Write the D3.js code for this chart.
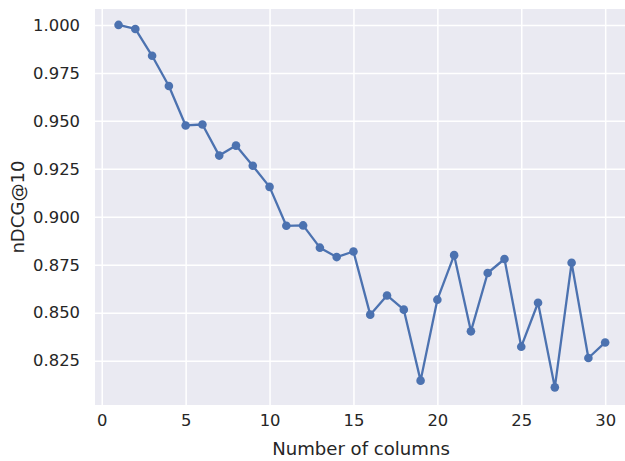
<!DOCTYPE html>
<html>
<head>
<meta charset="utf-8">
<script src="https://cdn.jsdelivr.net/npm/d3@7"></script>
<style>
  html, body { margin: 0; padding: 0; background: #fff; }
  svg { display: block; }
  text { font-family: "DejaVu Sans", sans-serif; fill: #262626; }
</style>
</head>
<body>
<svg id="chart" width="625" height="461"></svg>
<script>
const columns = d3.range(1, 31);
const ndcg = [
  1.0000, 0.9979, 0.9839, 0.9682, 0.9476, 0.9481, 0.9319, 0.9371, 0.9266, 0.9156,
  0.8953, 0.8955, 0.8839, 0.8790, 0.8819, 0.8490, 0.8590, 0.8516, 0.8146, 0.8568,
  0.8800, 0.8403, 0.8707, 0.8780, 0.8323, 0.8552, 0.8111, 0.8760, 0.8264, 0.8345
];
const xTicks = [0, 5, 10, 15, 20, 25, 30];
const yTicks = [0.825, 0.850, 0.875, 0.900, 0.925, 0.950, 0.975, 1.000];
const xLabel = "Number of columns";
const yLabel = "nDCG@10";

const svg = d3.select("#chart");
const plot = { left: 95, top: 9, right: 630, bottom: 405 };

const x = d3.scaleLinear().domain([-0.45, 31.45]).range([94.2, 629.5]);
const y = d3.scaleLinear().domain([0.8019, 1.0083]).range([plot.bottom, plot.top]);

svg.append("rect")
  .attr("x", plot.left).attr("y", plot.top)
  .attr("width", plot.right - plot.left).attr("height", plot.bottom - plot.top)
  .attr("fill", "#EAEAF2");

// grid
const xAxis = d3.axisBottom(x).tickValues(xTicks).tickSize(-(plot.bottom - plot.top)).tickPadding(9).tickFormat(d3.format("d"));
const gx = svg.append("g").attr("transform", `translate(0,${plot.bottom})`).call(xAxis);
gx.select(".domain").remove();
gx.selectAll(".tick line").attr("stroke", "#fff").attr("stroke-width", 1.5);
gx.selectAll(".tick text").attr("font-size", "16.4px").attr("fill", "#262626").attr("dy", "0.71em");

const yAxis = d3.axisLeft(y).tickValues(yTicks).tickSize(-(plot.right - plot.left)).tickPadding(15).tickFormat(d3.format(".3f"));
const gy = svg.append("g").attr("transform", `translate(${plot.left},0)`).call(yAxis);
gy.select(".domain").remove();
gy.selectAll(".tick line").attr("stroke", "#fff").attr("stroke-width", 1.5);
gy.selectAll(".tick text").attr("font-size", "16.4px").attr("fill", "#262626");

const data = columns.map((c, i) => ({ c, v: ndcg[i] }));

svg.append("path")
  .datum(data)
  .attr("fill", "none")
  .attr("stroke", "#4C72B0")
  .attr("stroke-width", 2.3)
  .attr("stroke-linejoin", "round")
  .attr("d", d3.line().x(d => x(d.c)).y(d => y(d.v)));

svg.append("g").selectAll("circle")
  .data(data)
  .join("circle")
  .attr("cx", d => x(d.c))
  .attr("cy", d => y(d.v))
  .attr("r", 4.3)
  .attr("fill", "#4C72B0");

svg.append("text")
  .attr("x", 361)
  .attr("y", 455)
  .attr("text-anchor", "middle")
  .attr("font-size", "18.1px")
  .text(xLabel);

svg.append("text")
  .attr("transform", `translate(24,${(plot.top + plot.bottom) / 2}) rotate(-90)`)
  .attr("text-anchor", "middle")
  .attr("font-size", "18.1px")
  .text(yLabel);
</script>
</body>
</html>
